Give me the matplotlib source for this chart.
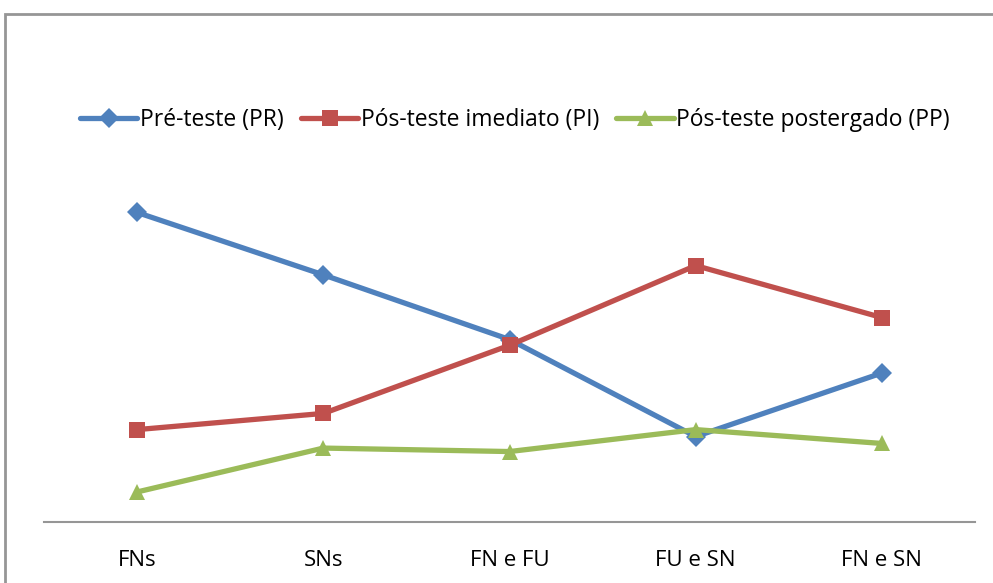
import matplotlib.pyplot as plt
from matplotlib.patches import Rectangle

plt.rcParams['font.family'] = ['Open Sans', 'DejaVu Sans']

categories = ["FNs", "SNs", "FN e FU", "FU e SN", "FN e SN"]
pre_teste = [26.8, 21.4, 15.8, 7.4, 12.9]
pos_imediato = [8.0, 9.4, 15.3, 22.2, 17.7]
pos_postergado = [2.6, 6.4, 6.1, 8.0, 6.8]

series = [
    ("Pré-teste (PR)", pre_teste, "#4F81BD", "D", 10),
    ("Pós-teste imediato (PI)", pos_imediato, "#C0504D", "s", 11),
    ("Pós-teste postergado (PP)", pos_postergado, "#9BBB59", "^", 12),
]

fig = plt.figure(figsize=(9.93, 5.83), dpi=100)
ax = fig.add_axes([44 / 993, 1 - 522 / 583, 931 / 993, 462 / 583])

x = list(range(len(categories)))
for label, vals, color, marker, ms in series:
    ax.plot(x, vals, color=color, lw=3.8, marker=marker, markersize=ms,
            markeredgewidth=0, label=label, solid_capstyle="round")

ax.set_xlim(-0.5, len(categories) - 0.5)
ax.set_ylim(0, 40)
ax.set_xticks(x)
ax.set_xticklabels(categories, fontsize=16)
ax.tick_params(axis="x", length=0, pad=20)
ax.set_yticks([])
for side in ["top", "right", "left"]:
    ax.spines[side].set_visible(False)
ax.spines["bottom"].set_color("#969696")
ax.spines["bottom"].set_linewidth(1.5)

fig.legend(loc="center", bbox_to_anchor=(515 / 993, 1 - 120 / 583), ncol=3,
           frameon=False, fontsize=16.5, handlelength=2.5, handletextpad=0.12,
           columnspacing=0.75)

# chart frame
fig.patches.append(Rectangle((5 / 993, -0.1), 1.2, 0.1 + 1 - 14 / 583,
                             transform=fig.transFigure, fill=False,
                             edgecolor="#969696", lw=2, clip_on=False))

fig.savefig("out.png", dpi=100)
